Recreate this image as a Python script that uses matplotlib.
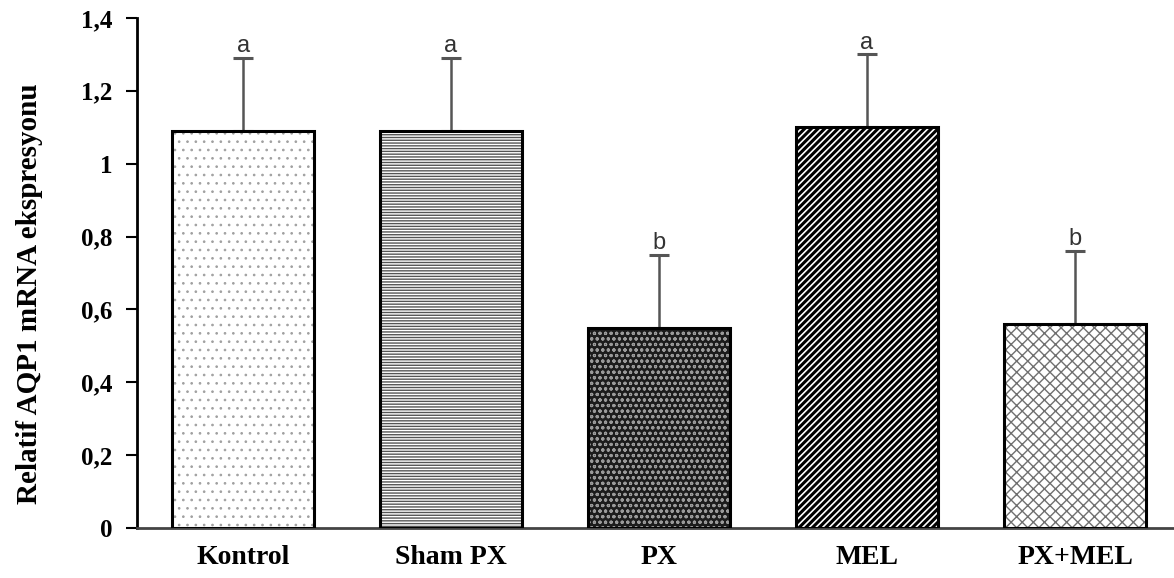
import matplotlib
matplotlib.use("Agg")
import matplotlib.pyplot as plt
import numpy as np

categories = ["Kontrol", "Sham PX", "PX", "MEL", "PX+MEL"]
values = [1.09, 1.09, 0.55, 1.10, 0.56]
errors = [0.20, 0.20, 0.20, 0.20, 0.20]
letters = ["a", "a", "b", "a", "b"]
yticks = [0, 0.2, 0.4, 0.6, 0.8, 1.0, 1.2, 1.4]
ytick_labels = ["0", "0,2", "0,4", "0,6", "0,8", "1", "1,2", "1,4"]

hatches = ["..", "------", "ooo", "/////", "xxx"]
faces = ["white", "white", "#1c1c1c", "white", "white"]
hatch_colors = ["#a0a0a0", "#555555", "#9a9a9a", "black", "#707070"]
hatch_lws = [0.7, 1.0, 0.8, 2.2, 1.0]

fig = plt.figure(figsize=(11.74, 5.78), dpi=100)
ax = fig.add_axes([0.1167, 0.0865, 0.8833, 0.8825])

x = np.arange(len(categories))
w = 0.68
for i in range(len(categories)):
    with plt.rc_context({'hatch.linewidth': hatch_lws[i]}):
        ax.bar(x[i], values[i], width=w, color=faces[i], hatch=hatches[i],
               edgecolor=hatch_colors[i], linewidth=0, zorder=2)
ax.bar(x, values, width=w, fill=False, edgecolor="black", linewidth=2.2, zorder=3)
ax.errorbar(x, values, yerr=[np.zeros(len(errors)), errors], fmt="none",
            ecolor="#555555", elinewidth=1.8, capsize=7, capthick=2.2, zorder=1)
for i in range(len(categories)):
    ax.text(x[i], values[i] + errors[i] + 0.002, letters[i], ha="center", va="bottom",
            fontsize=17, color="#333333", family="Liberation Sans")

ax.set_ylim(0, 1.4)
ax.set_xlim(-0.51, 4.476)
ax.set_yticks(yticks)
ax.set_yticklabels(ytick_labels, fontsize=18, fontweight="bold", family="Liberation Serif")
ax.set_xticks(x)
ax.set_xticklabels(categories, fontsize=20, fontweight="bold", family="Liberation Serif")
ax.tick_params(axis="x", length=0, pad=12)
ax.tick_params(axis="y", length=8, width=1.5, direction="out", pad=10)
ax.set_ylabel("Relatif AQP1 mRNA ekspresyonu", fontsize=21, fontweight="bold",
              family="Liberation Serif")
ax.yaxis.set_label_coords(-0.091, 0.46)
for s in ["top", "right"]:
    ax.spines[s].set_visible(False)
ax.spines["left"].set_linewidth(2)
ax.spines["bottom"].set_linewidth(2)
ax.spines["bottom"].set_color("#444444")

fig.savefig("out.png", dpi=100)
